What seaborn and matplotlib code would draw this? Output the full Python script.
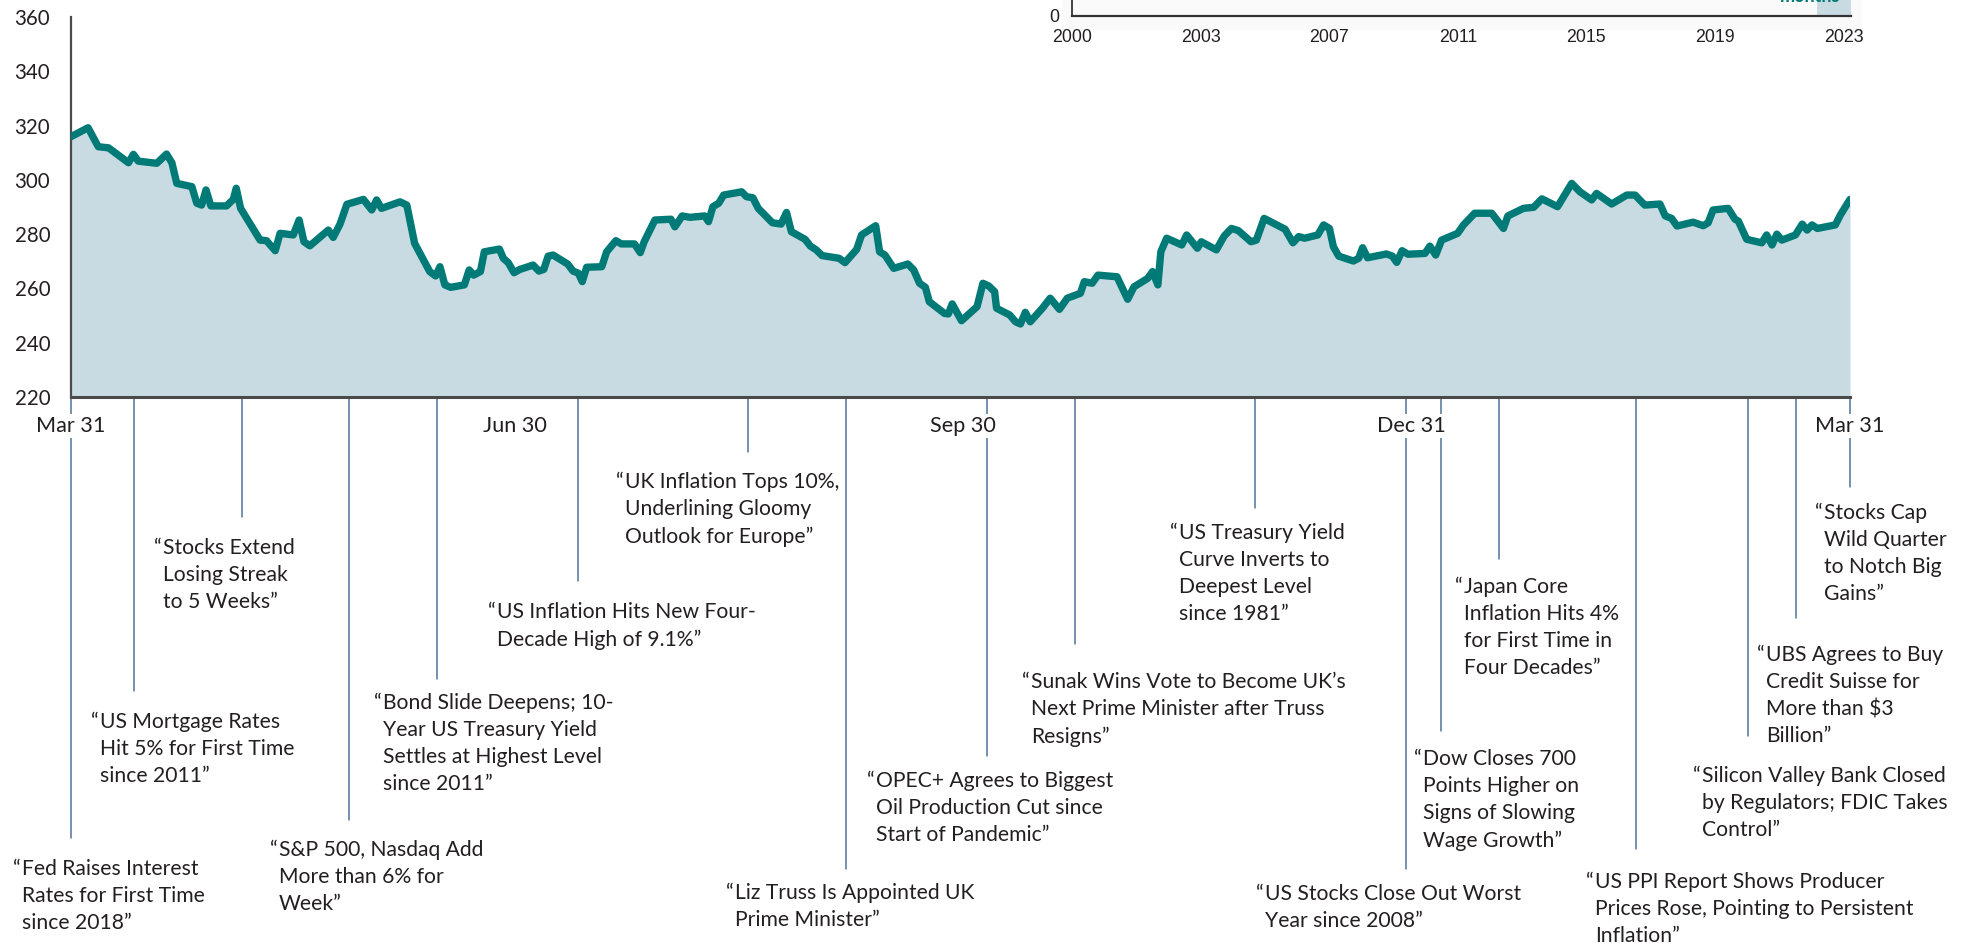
import numpy as np
import pandas as pd
import matplotlib
matplotlib.use("Agg")
import matplotlib.pyplot as plt
import matplotlib.transforms as mtransforms
import seaborn as sns

# ---------------- data ----------------
start_date = "2022-03-31"
end_date = "2023-03-31"

days_since_start = [
    0, 3.5, 5.6, 7.7, 11.8, 12.8, 13.8, 17.6, 19.6, 20.7, 21.7, 24.8, 25.8, 26.8, 27.7, 28.7,
    31.9, 33.3, 33.9, 34.8, 38.8, 40.1, 41.9, 42.9, 45.6, 46.8, 47.8, 49, 52.8, 53.8, 55.2,
    56.6, 60, 61.7, 62.7, 63.7, 67.5, 68.9, 70.5, 73.6, 74.8, 75.7, 76.7, 77.9, 80.7, 81.7,
    82.6, 84, 84.8, 87.9, 88.7, 89.7, 90.9, 92.1, 94.8, 96, 97, 97.9, 98.9, 101.9, 103, 104.1,
    104.9, 105.8, 108.9, 109.9, 111.8, 112.9, 115.6, 116.8, 117.6, 119.8, 123.1, 123.9,
    125.4, 127, 130, 130.8, 131.7, 132.9, 133.9, 137.6, 138.6, 139.9, 141, 143.9, 145.7,
    146.8, 147.8, 150.6, 151.7, 152.9, 154.1, 157.6, 158.8, 161.2, 162.2, 165.1, 165.9, 167,
    168.8, 171.7, 172.9, 174.1, 175.3, 176.1, 179.2, 180, 180.8, 182.7, 185.9, 187.1, 188.3,
    189.5, 189.9, 192.6, 193.8, 194.8, 195.8, 196.8, 199.3, 200.9, 202.8, 204.4, 207.1,
    207.9, 209.5, 210.7, 214.6, 216.8, 218.1, 220.9, 221.9, 223, 223.6, 224.8, 227.9, 228.9,
    231.1, 231.9, 235, 236.6, 238.1, 239.5, 242.1, 243.2, 244.8, 249.1, 250.7, 251.9, 253.1,
    255.8, 257, 258.2, 259, 260.1, 263.1, 264.2, 265, 266, 269.9, 271.1, 272, 273.1, 274.3,
    277.8, 278.8, 280, 281.2, 284.5, 285.7, 288, 291.5, 293.9, 294.8, 298, 300.1, 301.8, 305,
    307.9, 309.6, 312, 313, 316.1, 319.2, 320.9, 322.9, 326, 327.1, 328.4, 329.5, 332.8,
    334.9, 335.9, 336.9, 340, 341.4, 342.1, 343.8, 346.9, 347.9, 349, 350, 351, 353.8, 355.2,
    356.2, 357.2, 358.3, 362, 363, 365,
]
index_values = [
    315.9, 319.2, 312.2, 311.8, 306.3, 309.4, 306.9, 306.1, 309.5, 306.3, 298.7, 297.5, 291.4,
    290.7, 296.3, 290.4, 290.4, 292.8, 296.9, 289.5, 277.8, 277.6, 273.9, 280.3, 279.7, 285.2,
    277.2, 275.7, 281.5, 278.8, 283.7, 291.0, 292.8, 288.9, 292.6, 289.5, 291.9, 290.7, 276.6,
    266.2, 264.6, 268.0, 261.3, 260.4, 261.3, 266.8, 264.9, 266.2, 273.5, 274.5, 271.1, 269.5,
    265.8, 267.0, 268.6, 266.4, 267.0, 271.9, 272.3, 269.0, 266.4, 265.6, 262.5, 267.8, 268.0,
    273.5, 277.6, 276.4, 276.4, 273.2, 277.2, 285.2, 285.5, 282.7, 286.7, 286.2, 286.7, 284.6,
    290.1, 291.4, 294.4, 295.6, 293.8, 293.4, 289.5, 284.2, 283.7, 288.0, 280.9, 278.1, 275.6,
    274.2, 272.1, 271.1, 269.5, 274.4, 279.7, 283.1, 273.5, 272.3, 267.4, 269.0, 266.8, 261.9,
    260.4, 255.1, 250.8, 250.6, 254.3, 248.1, 253.3, 261.9, 260.9, 258.8, 252.7, 250.2, 247.7,
    246.9, 251.2, 247.7, 252.7, 256.4, 252.3, 256.4, 258.2, 262.5, 261.9, 264.9, 264.3, 256.0,
    260.6, 263.7, 266.2, 261.3, 273.5, 278.5, 276.0, 279.7, 274.8, 277.2, 274.2, 279.3, 282.1,
    281.3, 277.2, 277.8, 285.8, 281.8, 276.8, 279.1, 278.5, 279.7, 283.4, 282.1, 275.4, 271.9,
    270.1, 271.1, 275.0, 271.3, 272.7, 271.9, 269.6, 273.9, 272.6, 272.9, 275.6, 272.3, 277.8,
    280.3, 283.4, 287.7, 287.7, 282.1, 286.7, 289.5, 289.9, 293.0, 290.1, 298.7, 295.6, 292.6,
    295.0, 291.1, 294.4, 294.4, 290.7, 291.1, 286.7, 285.8, 283.0, 284.4, 283.1, 284.2, 288.9,
    289.5, 285.5, 284.8, 278.1, 276.8, 279.7, 276.0, 280.0, 277.8, 279.7, 283.7, 281.5, 283.4,
    282.1, 283.4, 287.0, 292.8,
]

y_ticks = [220, 240, 260, 280, 300, 320, 340, 360]
x_tick_dates = ["2022-03-31", "2022-06-30", "2022-09-30", "2022-12-31", "2023-03-31"]
x_tick_labels = ["Mar 31", "Jun 30", "Sep 30", "Dec 31", "Mar 31"]

event_dates = [
    "2022-03-31", "2022-04-13", "2022-05-05", "2022-05-27", "2022-06-14", "2022-07-13",
    "2022-08-17", "2022-09-06", "2022-10-05", "2022-10-23", "2022-11-29", "2022-12-30",
    "2023-01-06", "2023-01-18", "2023-02-15", "2023-03-10", "2023-03-20", "2023-03-31",
]
event_labels = [
    "Fed Raises Interest\nRates for First Time\nsince 2018\u201d",
    "US Mortgage Rates\nHit 5% for First Time\nsince 2011\u201d",
    "Stocks Extend\nLosing Streak\nto 5 Weeks\u201d",
    "S&P 500, Nasdaq Add\nMore than 6% for\nWeek\u201d",
    "Bond Slide Deepens; 10-\nYear US Treasury Yield\nSettles at Highest Level\nsince 2011\u201d",
    "US Inflation Hits New Four-\nDecade High of 9.1%\u201d",
    "UK Inflation Tops 10%,\nUnderlining Gloomy\nOutlook for Europe\u201d",
    "Liz Truss Is Appointed UK\nPrime Minister\u201d",
    "OPEC+ Agrees to Biggest\nOil Production Cut since\nStart of Pandemic\u201d",
    "Sunak Wins Vote to Become UK\u2019s\nNext Prime Minister after Truss\nResigns\u201d",
    "US Treasury Yield\nCurve Inverts to\nDeepest Level\nsince 1981\u201d",
    "US Stocks Close Out Worst\nYear since 2008\u201d",
    "Dow Closes 700\nPoints Higher on\nSigns of Slowing\nWage Growth\u201d",
    "Japan Core\nInflation Hits 4%\nfor First Time in\nFour Decades\u201d",
    "US PPI Report Shows Producer\nPrices Rose, Pointing to Persistent\nInflation\u201d",
    "Silicon Valley Bank Closed\nby Regulators; FDIC Takes\nControl\u201d",
    "UBS Agrees to Buy\nCredit Suisse for\nMore than $3\nBillion\u201d",
    "Stocks Cap\nWild Quarter\nto Notch Big\nGains\u201d",
]

inset_tick_labels = ["2000", "2003", "2007", "2011", "2015", "2019", "2023"]
inset_period_start = 2022.2
inset_period_end = 2023.22

# ---------------- layout (pixels in 1967x943 figure) ----------------
W, H = 1967, 943
line_end_px = [838, 691, 517, 820, 679, 581, 452, 869, 756, 644, 508, 869, 731, 559, 849, 736, 618, 487]
text_left_px = [13, 91, 154, 270, 374, 488, 616, 726, 867, 1022, 1170, 1256, 1414, 1455, 1586, 1693, 1757, 1815]
text_top_px = [859, 712, 538, 840, 693, 602, 472, 883, 771, 672, 523, 884, 749, 577, 872, 766, 645, 503]

TEAL = "#007A76"
FILL = "#C9DBE2"
EVT = "#4E7399"
TXT = "#231F20"
FS = 15.2

sns.set_style("white")
plt.rcParams["font.family"] = ["Lato", "DejaVu Sans"]

fig = plt.figure(figsize=(W / 100, H / 100), dpi=100)
ax = fig.add_axes([71 / W, 1 - 397 / H, 1779 / W, 380 / H])

df = pd.DataFrame({
    "date": pd.Timestamp(start_date) + pd.to_timedelta(days_since_start, unit="D"),
    "value": index_values,
})

ax.fill_between(df["date"], df["value"], 220, color=FILL, linewidth=0, zorder=1)
sns.lineplot(data=df, x="date", y="value", ax=ax, color=TEAL, linewidth=5.3,
             solid_joinstyle="round", solid_capstyle="round", zorder=3)

ax.set_xlim(pd.Timestamp(start_date), pd.Timestamp(end_date))
ax.set_ylim(220, 360)
ax.set_yticks(y_ticks)
ax.set_yticklabels([str(v) for v in y_ticks])
ax.set_xticks(pd.to_datetime(x_tick_dates))
ax.set_xticklabels(x_tick_labels)
ax.set_xlabel("")
ax.set_ylabel("")
ax.tick_params(axis="y", length=0, pad=15, labelsize=14.8, labelcolor=TXT)
ax.tick_params(axis="x", length=0, pad=13.5, labelsize=15.6, labelcolor=TXT)
for lab in ax.get_xticklabels():
    lab.set_bbox(dict(facecolor="white", edgecolor="none", pad=1.5))
ax.set_axisbelow(False)
ax.xaxis.set_zorder(5)
for s in ["top", "right"]:
    ax.spines[s].set_visible(False)
ax.spines["left"].set_color("#4a4a4a")
ax.spines["left"].set_linewidth(1.6)
ax.spines["bottom"].set_color("#4a4a4a")
ax.spines["bottom"].set_linewidth(2.2)
ax.spines["bottom"].set_zorder(6)

# event connector lines and annotations
blend = mtransforms.blended_transform_factory(ax.transData, fig.transFigure)
y_axis_bottom = 1 - 397 / H
for d, yend in zip(pd.to_datetime(event_dates), line_end_px):
    ax.plot([d, d], [y_axis_bottom, 1 - yend / H], transform=blend, color=EVT,
            linewidth=1.1, clip_on=False, zorder=0.2)

quote_offset = mtransforms.ScaledTranslation(8.8 / 100, 0, fig.dpi_scale_trans)
for label, tx, ty in zip(event_labels, text_left_px, text_top_px):
    fig.text(tx / W, 1 - ty / H, "\u201c", ha="left", va="top", fontsize=FS, color=TXT)
    fig.text(tx / W, 1 - ty / H, label, ha="left", va="top", fontsize=FS, color=TXT,
             linespacing=1.44, transform=fig.transFigure + quote_offset)

# partial inset at top right (cropped by figure edge)
inset_bg = fig.add_axes([1062 / W, 1 - 30 / H, 800 / W, 30 / H])
inset_bg.set_facecolor("#FAFAFA")
inset_bg.set_xticks([])
inset_bg.set_yticks([])
for s in inset_bg.spines.values():
    s.set_visible(False)

inset = fig.add_axes([1072 / W, 1 - 15.5 / H, 779 / W, 0.2])
inset.patch.set_alpha(0)
inset.set_xlim(2000, 2023.22)
inset.set_ylim(0, 100)
inset.axvspan(inset_period_start, inset_period_end, color=FILL, linewidth=0)
inset.set_xticks(np.linspace(2000, 2023, len(inset_tick_labels)))
inset.set_xticklabels(inset_tick_labels, family=["Liberation Sans", "DejaVu Sans"])
inset.set_yticks([0])
inset.set_yticklabels(["0"], family=["Liberation Sans", "DejaVu Sans"])
inset.tick_params(axis="x", length=0, pad=10, labelsize=12.8, labelcolor=TXT)
inset.tick_params(axis="y", length=0, pad=9, labelsize=12.8, labelcolor=TXT)
for s in ["top", "right"]:
    inset.spines[s].set_visible(False)
inset.spines["left"].set_color("#333333")
inset.spines["bottom"].set_color("#333333")
inset.spines["left"].set_linewidth(1.3)
inset.spines["bottom"].set_linewidth(1.6)
fig.text(1840 / W, 1 - 2.5 / H, "months", ha="right", va="baseline", fontsize=13,
         fontweight="bold", color=TEAL)

fig.savefig("out.png", dpi=100)
